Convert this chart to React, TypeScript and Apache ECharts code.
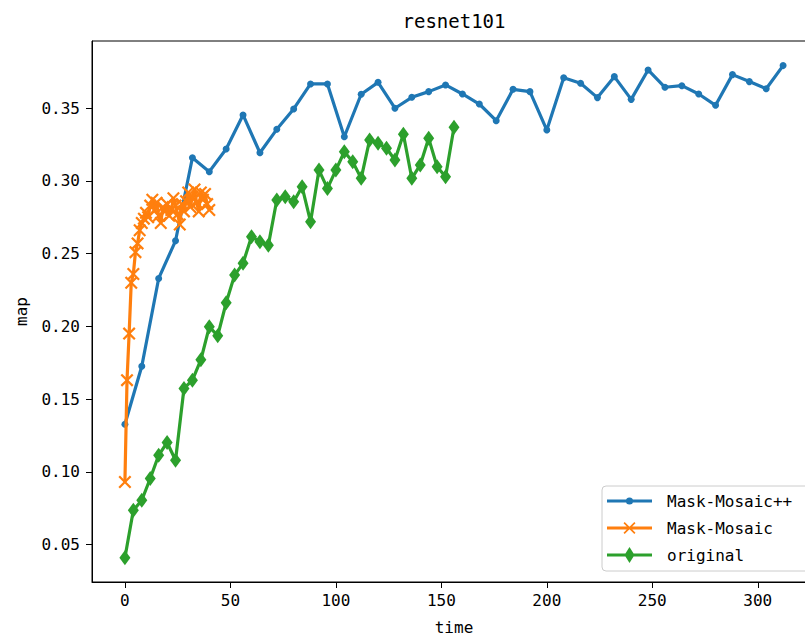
import React, { useEffect, useRef } from "react";
import * as echarts from "echarts";

const blueTime = [0, 8, 16, 24, 32, 40, 48, 56, 64, 72, 80, 88, 96, 104, 112, 120, 128, 136, 144, 152, 160, 168, 176, 184, 192, 200, 208, 216, 224, 232, 240, 248, 256, 264, 272, 280, 288, 296, 304, 312];
const blueMap = [0.1327, 0.1726, 0.2329, 0.2588, 0.3159, 0.3063, 0.3219, 0.3453, 0.3193, 0.3354, 0.3494, 0.3666, 0.3666, 0.3303, 0.3595, 0.3677, 0.3499, 0.3574, 0.3613, 0.3659, 0.3597, 0.3528, 0.3413, 0.3629, 0.3613, 0.3349, 0.3709, 0.3671, 0.3572, 0.3716, 0.356, 0.3762, 0.3643, 0.3654, 0.3597, 0.3519, 0.373, 0.3682, 0.3633, 0.3792];

const orangeTime = [0, 1, 2, 3, 4, 5, 6, 7, 8, 9, 10, 11, 12, 13, 14, 15, 16, 17, 18, 19, 20, 21, 22, 23, 24, 25, 26, 27, 28, 29, 30, 31, 32, 33, 34, 35, 36, 37, 38, 39, 40];
const orangeMap = [0.093, 0.163, 0.195, 0.23, 0.236, 0.251, 0.257, 0.266, 0.271, 0.274, 0.278, 0.275, 0.283, 0.287, 0.28, 0.285, 0.276, 0.271, 0.282, 0.279, 0.284, 0.276, 0.28, 0.288, 0.283, 0.277, 0.27, 0.284, 0.279, 0.286, 0.292, 0.282, 0.289, 0.294, 0.285, 0.279, 0.292, 0.287, 0.291, 0.284, 0.28];

const greenTime = [0, 4, 8, 12, 16, 20, 24, 28, 32, 36, 40, 44, 48, 52, 56, 60, 64, 68, 72, 76, 80, 84, 88, 92, 96, 100, 104, 108, 112, 116, 120, 124, 128, 132, 136, 140, 144, 148, 152, 156];
const greenMap = [0.041, 0.0736, 0.0805, 0.0954, 0.1114, 0.1202, 0.108, 0.1573, 0.163, 0.177, 0.1997, 0.1936, 0.2162, 0.2352, 0.2433, 0.2616, 0.2581, 0.2558, 0.2868, 0.2891, 0.2856, 0.2959, 0.2719, 0.3074, 0.2948, 0.3074, 0.32, 0.3131, 0.3017, 0.3281, 0.3258, 0.3224, 0.3143, 0.332, 0.3017, 0.3109, 0.3292, 0.3097, 0.3028, 0.3368];

const xTicks = [0, 50, 100, 150, 200, 250, 300];
const yTicks = [0.05, 0.1, 0.15, 0.2, 0.25, 0.3, 0.35];

const seriesNames = ["Mask-Mosaic++", "Mask-Mosaic", "original"];
const colors = ["#1f77b4", "#ff7f0e", "#2ca02c"];

const FONT = "DejaVu Sans Mono";
const X_PATH = "path://M0,1.2L1.2,0L5,3.8L8.8,0L10,1.2L6.2,5L10,8.8L8.8,10L5,6.2L1.2,10L0,8.8L3.8,5Z";

// legend handles: line (45 wide) + marker, all sub-paths clockwise so they union
const LINE_RECT = "M0,6.6L45,6.6L45,9.4L0,9.4Z";
const LEG_BLUE = "path://M0,6.6L45,6.6L45,9.4L0,9.4ZM22.5,4.4A3.6,3.6 0 0,1 22.5,11.6A3.6,3.6 0 0,1 22.5,4.4Z";
const LEG_ORANGE =
  "path://" + LINE_RECT +
  "M16.5,3.2L17.7,2L22.5,6.8L27.3,2L28.5,3.2L23.7,8L28.5,12.8L27.3,14L22.5,9.2L17.7,14L16.5,12.8L21.3,8Z";
const LEG_GREEN = "path://" + LINE_RECT + "M22.5,0L27.5,8L22.5,16L17.5,8Z";

function zip(xs: number[], ys: number[]) {
  return xs.map((x, i) => [x, ys[i]]);
}

export default function App() {
  const ref = useRef<HTMLDivElement>(null);
  useEffect(() => {
    if (!ref.current) return;
    const chart = echarts.init(ref.current, undefined, { renderer: "svg" });
    const textBase = { fontFamily: FONT, fontSize: 16, color: "#000" };
    chart.setOption({
      animation: false,
      backgroundColor: "#fff",
      title: {
        text: "resnet101",
        left: 454,
        textAlign: "center",
        top: 11,
        padding: 0,
        textStyle: { ...textBase, fontSize: 19, fontWeight: "normal" },
      },
      grid: {
        left: 92,
        top: 41,
        width: 724,
        height: 541,
        outerBoundsMode: "none",
        containLabel: false,
        show: true,
        borderColor: "#000",
        borderWidth: 1,
        backgroundColor: "transparent",
      },
      legend: {
        orient: "vertical",
        left: 602,
        top: 486,
        padding: [7, 20, 8, 5],
        itemWidth: 45,
        itemHeight: 16,
        itemGap: 11,
        symbolKeepAspect: true,
        borderColor: "#cccccc",
        borderWidth: 1,
        borderRadius: 4,
        backgroundColor: "rgba(255,255,255,0.8)",
        itemStyle: { borderWidth: 0 },
        data: [
          { name: seriesNames[0], icon: LEG_BLUE },
          { name: seriesNames[1], icon: LEG_ORANGE },
          { name: seriesNames[2], icon: LEG_GREEN },
        ],
        textStyle: { ...textBase, padding: [0, 0, 0, 10], lineHeight: 16 },
      },
      xAxis: {
        type: "value",
        min: -15.6,
        max: 327.6,
        name: "time",
        nameLocation: "middle",
        nameGap: 37,
        nameTextStyle: textBase,
        axisLine: { show: true, onZero: false, lineStyle: { color: "#000", width: 1 } },
        axisTick: { show: true, length: 6, customValues: xTicks, lineStyle: { color: "#000" } },
        axisLabel: { ...textBase, margin: 10, customValues: xTicks, formatter: (v: number) => String(v) },
        splitLine: { show: false },
      },
      yAxis: {
        type: "value",
        min: 0.0243,
        max: 0.3961,
        name: "map",
        nameLocation: "middle",
        nameGap: 63,
        nameTextStyle: textBase,
        axisLine: { show: true, onZero: false, lineStyle: { color: "#000", width: 1 } },
        axisTick: { show: true, length: 6, customValues: yTicks, lineStyle: { color: "#000" } },
        axisLabel: { ...textBase, margin: 12, customValues: yTicks, formatter: (v: number) => v.toFixed(2) },
        splitLine: { show: false },
      },
      series: [
        {
          name: seriesNames[0],
          type: "line",
          data: zip(blueTime, blueMap),
          color: colors[0],
          symbol: "circle",
          symbolSize: 7,
          showAllSymbol: true,
          lineStyle: { width: 3.2, color: colors[0] },
          itemStyle: { color: colors[0] },
          z: 2,
        },
        {
          name: seriesNames[1],
          type: "line",
          data: zip(orangeTime, orangeMap),
          color: colors[1],
          symbol: X_PATH,
          symbolSize: 13,
          showAllSymbol: true,
          lineStyle: { width: 3.2, color: colors[1] },
          itemStyle: { color: colors[1] },
          z: 3,
        },
        {
          name: seriesNames[2],
          type: "line",
          data: zip(greenTime, greenMap),
          color: colors[2],
          symbol: "diamond",
          symbolSize: [11, 15],
          showAllSymbol: true,
          lineStyle: { width: 3.2, color: colors[2] },
          itemStyle: { color: colors[2] },
          z: 4,
        },
      ],
    });
    return () => chart.dispose();
  }, []);
  return (
    <div
      ref={ref}
      style={{ position: "fixed", left: 0, top: 0, width: 805, height: 637 }}
    />
  );
}
